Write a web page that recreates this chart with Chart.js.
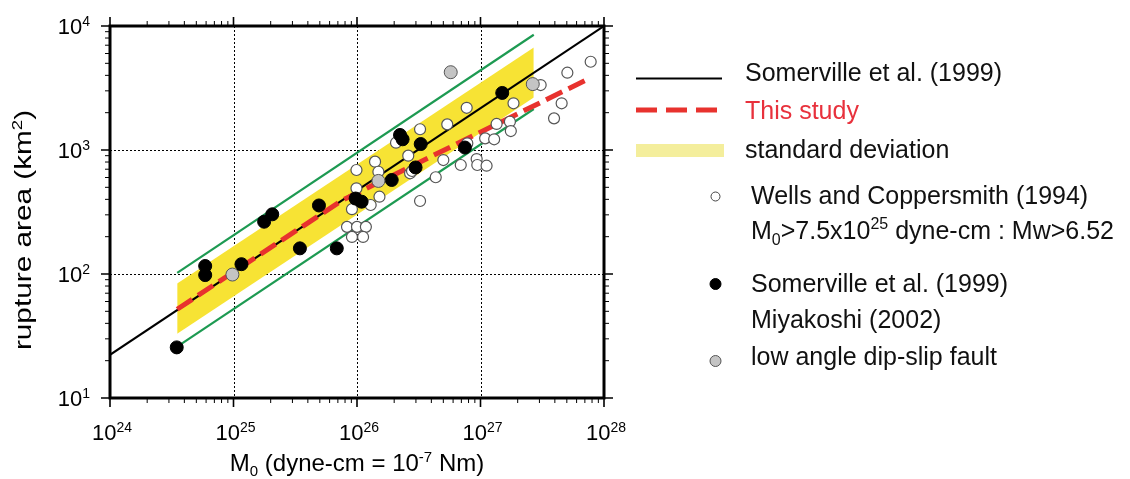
<!DOCTYPE html>
<html>
<head>
<meta charset="utf-8">
<script src="https://cdn.jsdelivr.net/npm/chart.js@4.4.0/dist/chart.umd.min.js"></script>
<style>
  html, body { margin: 0; padding: 0; background: #fff; }
  #wrap { width: 1130px; height: 479px; }
</style>
</head>
<body>
<div id="wrap"><canvas id="chart" width="1130" height="479"></canvas></div>
<script>
// --- data (M0 in dyne-cm, area in km2) ---
const xTickExp = [24, 25, 26, 27, 28];
const yTickExp = [1, 2, 3, 4];
const minorSteps = [2, 3, 4, 5, 6, 7, 8, 9];

const somervilleLineM = [1e24, 1e28];
const somervilleLineA = [22.3, 10000];

const thisStudyM = [3.5e24, 7.5e25, 7.5e27];
const thisStudyA = [52, 390, 3750];

const bandM = [3.5e24, 2.7e27];
const bandUpperA = [84, 6700];
const bandLowerA = [33, 2650];
const greenUpperA = [102, 8500];
const greenLowerA = [26, 2140];

// Wells and Coppersmith (1994)
const wellsM = [9.9e25, 9.1e25, 9.9e25, 1.40e26, 1.49e26, 1.52e26, 1.29e26, 2.07e26, 2.60e26, 2.69e26,
  2.79e26, 3.24e26, 3.24e26, 4.34e26, 5.0e26, 5.38e26, 6.92e26, 7.73e26, 7.82e26, 9.31e26,
  9.42e26, 1.12e27, 1.09e27, 1.29e27, 1.35e27, 1.73e27, 1.76e27, 1.85e27, 3.07e27, 3.94e27,
  4.54e27, 5.05e27, 7.8e27, 8.3e25, 1.0e26, 1.18e26, 9.1e25, 1.12e26];
const wellsA = [690, 333, 491, 805, 668, 420, 360, 1145, 900, 649,
  677, 1470, 388, 603, 830, 1610, 757, 2190, 1132, 845,
  757, 747, 1241, 1220, 1622, 1690, 1422, 2380, 3340, 1800,
  2380, 4200, 5150, 240, 240, 240, 199, 199];

// Somerville et al. (1999), Miyakoshi (2002)
const somPtsM = [3.47e24, 5.9e24, 5.9e24, 1.16e25, 1.77e25, 2.06e25, 3.45e25, 4.92e25, 6.86e25,
  9.75e25, 1.09e26, 1.91e26, 2.23e26, 2.34e26, 2.98e26, 3.28e26, 7.48e26, 1.50e27];
const somPtsA = [25.6, 116, 98, 120, 264, 303, 161, 357, 161,
  406, 383, 573, 1322, 1220, 723, 1117, 1047, 2885];

// low angle dip-slip fault
const lowAngleM = [9.8e24, 1.49e26, 5.74e26, 2.65e27];
const lowAngleA = [99, 563, 4240, 3400];

const FONT = '"Liberation Sans", Arial, Helvetica, sans-serif';
const zip = (xs, ys) => xs.map((v, i) => ({ x: v, y: ys[i] }));

// draw a run of text pieces with their own size and baseline shift
function drawRich(ctx, parts, x, y, align) {
  let total = 0;
  parts.forEach(p => {
    ctx.font = p.s + 'px ' + FONT;
    p.w = ctx.measureText(p.t).width;
    total += p.w;
  });
  let cx = x;
  if (align === 'center') cx = x - total / 2;
  else if (align === 'right') cx = x - total;
  ctx.textAlign = 'left';
  ctx.textBaseline = 'alphabetic';
  parts.forEach(p => {
    ctx.font = p.s + 'px ' + FONT;
    ctx.fillText(p.t, cx, y + (p.dy || 0));
    cx += p.w;
  });
}

const axisDecor = {
  id: 'axisDecor',
  beforeDatasetsDraw(chart) {
    const { ctx, chartArea: a, scales: { x, y } } = chart;
    ctx.save();
    ctx.strokeStyle = '#000';
    ctx.lineWidth = 1;
    ctx.setLineDash([2, 2]);
    xTickExp.slice(1, -1).forEach(e => {
      const px = Math.round(x.getPixelForValue(10 ** e)) + 0.5;
      ctx.beginPath(); ctx.moveTo(px, a.top); ctx.lineTo(px, a.bottom); ctx.stroke();
    });
    yTickExp.slice(1, -1).forEach(e => {
      const py = Math.round(y.getPixelForValue(10 ** e)) + 0.5;
      ctx.beginPath(); ctx.moveTo(a.left, py); ctx.lineTo(a.right, py); ctx.stroke();
    });
    ctx.restore();
  },
  afterDraw(chart) {
    const { ctx, chartArea: a, scales: { x, y } } = chart;
    ctx.save();
    ctx.strokeStyle = '#000';
    ctx.fillStyle = '#000';

    // ticks on all four sides
    const tick = (val, scale, major) => {
      const len = major ? 9 : 5;
      ctx.lineWidth = major ? 1.6 : 1;
      if (scale === x) {
        const px = x.getPixelForValue(val);
        ctx.beginPath();
        ctx.moveTo(px, a.bottom); ctx.lineTo(px, a.bottom + len);
        ctx.moveTo(px, a.top); ctx.lineTo(px, a.top - len);
        ctx.stroke();
      } else {
        const py = y.getPixelForValue(val);
        ctx.beginPath();
        ctx.moveTo(a.left, py); ctx.lineTo(a.left - len, py);
        ctx.moveTo(a.right, py); ctx.lineTo(a.right + len, py);
        ctx.stroke();
      }
    };
    xTickExp.forEach((e, i) => {
      tick(10 ** e, x, true);
      if (i < xTickExp.length - 1) minorSteps.forEach(k => tick(k * 10 ** e, x, false));
    });
    yTickExp.forEach((e, i) => {
      tick(10 ** e, y, true);
      if (i < yTickExp.length - 1) minorSteps.forEach(k => tick(k * 10 ** e, y, false));
    });

    // frame
    ctx.lineWidth = 3;
    ctx.strokeRect(a.left, a.top, a.right - a.left, a.bottom - a.top);

    // tick labels
    xTickExp.forEach(e => {
      drawRich(ctx, [{ t: '10', s: 22 }, { t: String(e), s: 14, dy: -8 }],
        x.getPixelForValue(10 ** e) + 2, 440, 'center');
    });
    yTickExp.forEach(e => {
      drawRich(ctx, [{ t: '10', s: 22 }, { t: String(e), s: 14, dy: -8 }],
        90, y.getPixelForValue(10 ** e) + 8, 'right');
    });

    // axis titles
    drawRich(ctx, [{ t: 'M', s: 24 }, { t: '0', s: 15, dy: 5 }, { t: ' (dyne-cm = 10', s: 24 },
      { t: '-7', s: 15, dy: -9 }, { t: ' Nm)', s: 24 }], 357, 471, 'center');
    ctx.save();
    ctx.translate(31, 230);
    ctx.rotate(-Math.PI / 2);
    ctx.scale(1.24, 1);
    drawRich(ctx, [{ t: 'rupture area (km', s: 24 }, { t: '2', s: 15, dy: -9 }, { t: ')', s: 24 }], 0, 0, 'center');
    ctx.restore();

    // legend
    ctx.lineWidth = 2;
    ctx.beginPath(); ctx.moveTo(636, 78.5); ctx.lineTo(722, 78.5); ctx.stroke();
    ctx.strokeStyle = '#e8322e';
    ctx.lineWidth = 5;
    ctx.setLineDash([21, 9]);
    ctx.beginPath(); ctx.moveTo(636, 110); ctx.lineTo(720, 110); ctx.stroke();
    ctx.setLineDash([]);
    ctx.fillStyle = '#f4ee9c';
    ctx.fillRect(636, 144, 88, 13);

    const dot = (cx, cy, r, fill, stroke) => {
      ctx.beginPath(); ctx.arc(cx, cy, r, 0, Math.PI * 2);
      ctx.fillStyle = fill; ctx.fill();
      ctx.lineWidth = 1; ctx.strokeStyle = stroke; ctx.stroke();
    };
    dot(715.5, 196.5, 4.5, '#fff', '#444');
    dot(715.5, 284, 5.5, '#000', '#000');
    dot(715.5, 361, 5.5, '#c4c4c4', '#555');

    ctx.fillStyle = '#111';
    drawRich(ctx, [{ t: 'Somerville et al. (1999)', s: 25 }], 745, 81, 'left');
    ctx.fillStyle = '#e8313c';
    drawRich(ctx, [{ t: 'This study', s: 25 }], 745, 119, 'left');
    ctx.fillStyle = '#111';
    drawRich(ctx, [{ t: 'standard deviation', s: 25 }], 745, 158, 'left');
    drawRich(ctx, [{ t: 'Wells and Coppersmith (1994)', s: 25 }], 751, 204, 'left');
    drawRich(ctx, [{ t: 'M', s: 25 }, { t: '0', s: 16, dy: 6 }, { t: '>7.5x10', s: 25 },
      { t: '25', s: 16, dy: -10 }, { t: ' dyne-cm : Mw>6.52', s: 25 }], 751, 239, 'left');
    drawRich(ctx, [{ t: 'Somerville et al. (1999)', s: 25 }], 751, 292, 'left');
    drawRich(ctx, [{ t: 'Miyakoshi (2002)', s: 25 }], 751, 328, 'left');
    drawRich(ctx, [{ t: 'low angle dip-slip fault', s: 25 }], 751, 365, 'left');
    ctx.restore();
  }
};

const lineDs = (label, m, a, color, width, order, extra) => Object.assign({
  label, data: zip(m, a), showLine: true, borderColor: color, borderWidth: width,
  pointRadius: 0, fill: false, order
}, extra || {});

const datasets = [
  lineDs('band upper', bandM, bandUpperA, 'rgba(0,0,0,0)', 0, 10,
    { fill: '+1', backgroundColor: '#f7e334' }),
  lineDs('band lower', bandM, bandLowerA, 'rgba(0,0,0,0)', 0, 10),
  lineDs('upper', bandM, greenUpperA, '#1d9a52', 2.2, 9),
  lineDs('lower', bandM, greenLowerA, '#1d9a52', 2.2, 9),
  lineDs('Somerville et al. (1999)', somervilleLineM, somervilleLineA, '#000', 2, 8),
  lineDs('This study', thisStudyM, thisStudyA, '#e8322e', 5, 7, { borderDash: [18, 7] }),
  {
    label: 'Wells and Coppersmith (1994)', data: zip(wellsM, wellsA),
    pointRadius: 5.5, pointBackgroundColor: '#fff', pointBorderColor: '#555', pointBorderWidth: 1.2, order: 3
  },
  {
    label: 'Somerville et al. (1999) / Miyakoshi (2002)', data: zip(somPtsM, somPtsA),
    pointRadius: 6.5, pointBackgroundColor: '#000', pointBorderColor: '#000', pointBorderWidth: 1, order: 2
  },
  {
    label: 'low angle dip-slip fault', data: zip(lowAngleM, lowAngleA),
    pointRadius: 6.5, pointBackgroundColor: '#c4c4c4', pointBorderColor: '#555', pointBorderWidth: 1, order: 1
  }
];

new Chart(document.getElementById('chart'), {
  type: 'scatter',
  data: { datasets },
  options: {
    responsive: false,
    devicePixelRatio: 1,
    animation: false,
    layout: { padding: { left: 110, top: 26, right: 526, bottom: 81 } },
    plugins: { legend: { display: false }, tooltip: { enabled: false } },
    scales: {
      x: { type: 'logarithmic', min: 1e24, max: 1e28, display: false },
      y: { type: 'logarithmic', min: 10, max: 1e4, display: false }
    }
  },
  plugins: [axisDecor]
});
</script>
</body>
</html>
